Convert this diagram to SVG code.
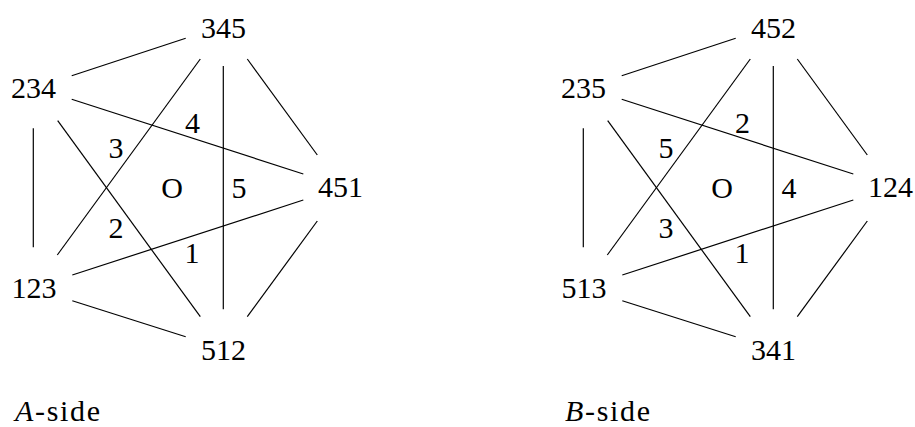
<svg xmlns="http://www.w3.org/2000/svg" width="915" height="427" viewBox="0 0 915 427">
<style>
text{font-family:"Liberation Serif","Times New Roman",serif;font-size:30px;fill:#000;text-anchor:middle}
.cap{text-anchor:start}
line{stroke:#000;stroke-width:1.2}
</style>
<rect width="915" height="427" fill="#fff"/>
<g id="sideA">
<g id="connectors-A">
<line x1="71.7" y1="75.7" x2="185.7" y2="38.3"/>
<line x1="247.3" y1="59" x2="317.3" y2="155"/>
<line x1="200.3" y1="59" x2="57.3" y2="255"/>
<line x1="223.3" y1="66" x2="223.3" y2="309.3"/>
<line x1="71.7" y1="99.3" x2="303.3" y2="174"/>
<line x1="57.7" y1="120.7" x2="200.3" y2="316.7"/>
<line x1="33.3" y1="128.3" x2="33.3" y2="247.3"/>
<line x1="72.3" y1="275" x2="303.3" y2="200"/>
<line x1="72.3" y1="300.7" x2="185.7" y2="336.7"/>
<line x1="317.3" y1="221" x2="247.3" y2="316.7"/>
</g>
<g id="n345"><text x="223.5" y="37.5">345</text></g>
<g id="n234"><text x="33.5" y="97.8">234</text></g>
<g id="n451"><text x="340.5" y="196.5">451</text></g>
<g id="n123"><text x="34" y="298">123</text></g>
<g id="n512"><text x="223.5" y="359.5">512</text></g>
<g id="labels-A">
<text x="192.5" y="133">4</text>
<text x="116" y="158">3</text>
<text x="239" y="198">5</text>
<text x="172" y="198">O</text>
<text x="116" y="238">2</text>
<text x="192" y="262.5">1</text>
</g>
<text class="cap" x="15" y="420.5" textLength="85" lengthAdjust="spacing"><tspan font-style="italic">A</tspan>-side</text>
</g>
<g id="sideB">
<g id="connectors-B" transform="translate(550,0)">
<line x1="71.7" y1="75.7" x2="185.7" y2="38.3"/>
<line x1="247.3" y1="59" x2="317.3" y2="155"/>
<line x1="200.3" y1="59" x2="57.3" y2="255"/>
<line x1="223.3" y1="66" x2="223.3" y2="309.3"/>
<line x1="71.7" y1="99.3" x2="303.3" y2="174"/>
<line x1="57.7" y1="120.7" x2="200.3" y2="316.7"/>
<line x1="33.3" y1="128.3" x2="33.3" y2="247.3"/>
<line x1="72.3" y1="275" x2="303.3" y2="200"/>
<line x1="72.3" y1="300.7" x2="185.7" y2="336.7"/>
<line x1="317.3" y1="221" x2="247.3" y2="316.7"/>
</g>
<g id="n452"><text x="773.5" y="37.5">452</text></g>
<g id="n235"><text x="583.5" y="97.8">235</text></g>
<g id="n124"><text x="890.5" y="196.5">124</text></g>
<g id="n513"><text x="584" y="298">513</text></g>
<g id="n341"><text x="773.5" y="359.5">341</text></g>
<g id="labels-B">
<text x="742.5" y="133">2</text>
<text x="666" y="158">5</text>
<text x="789" y="198">4</text>
<text x="722" y="198">O</text>
<text x="666" y="238">3</text>
<text x="742" y="262.5">1</text>
</g>
<text class="cap" x="565" y="420.5" textLength="85" lengthAdjust="spacing"><tspan font-style="italic">B</tspan>-side</text>
</g>
</svg>
